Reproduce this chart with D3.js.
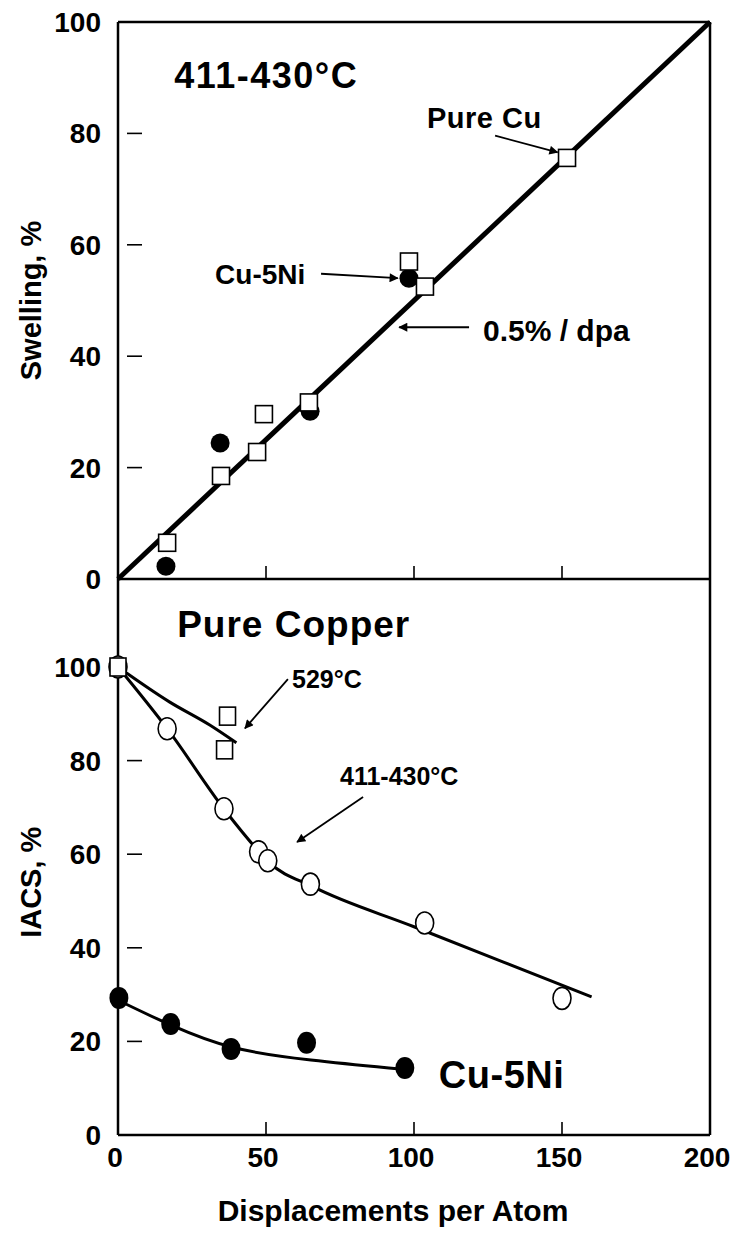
<!DOCTYPE html>
<html>
<head>
<meta charset="utf-8">
<script src="https://cdn.jsdelivr.net/npm/d3@7"></script>
<style>
  body { margin: 0; background: #fff; }
  svg text { font-family: "Liberation Sans", Arial, sans-serif; font-weight: bold; fill: #000; }
</style>
</head>
<body>
<svg id="chart" width="736" height="1233"></svg>
<script>
// swelling panel (411-430 C)
var cuDpa = [16.6, 34.8, 47, 49.3, 64.5, 98.3, 103.7, 151.7],
    cuSwell = [6.5, 18.5, 22.8, 29.6, 31.7, 57, 52.5, 75.6],
    niDpa = [16.2, 34.5, 64.9, 98.3],
    niSwell = [2.3, 24.4, 30.1, 54],
    fitDpa = [0, 200],
    fitSwell = [0, 100]

// IACS panel
var hotDpa = [0, 37, 36],
    hotIacs = [100, 89.5, 82.3],
    hotLineDpa = [0, 17.5, 31, 40],
    hotLineIacs = [100, 92.5, 87.6, 83.8],
    warmDpa = [0, 16.6, 35.8, 47.5, 50.6, 65, 103.6, 150],
    warmIacs = [100, 86.8, 69.7, 60.5, 58.6, 53.6, 45.3, 29.2],
    warmLineDpa = [0, 17, 36, 48, 51, 66, 100, 130, 160],
    warmLineIacs = [100, 86.5, 69.5, 60.3, 58.3, 53, 44.5, 37, 29.5],
    ni2Dpa = [0.3, 17.8, 38.2, 63.7, 96.9],
    ni2Iacs = [29.3, 23.7, 18.4, 19.7, 14.3],
    ni2LineDpa = [0, 18, 38, 64, 97],
    ni2LineIacs = [28.8, 23.3, 18.2, 16, 14]

var xTicks = [0, 50, 100, 150, 200],
    yTicks = [0, 20, 40, 60, 80, 100]

var svg = d3.select("#chart")

var x = d3.scaleLinear().domain([0, 200]).range([118, 710]),
    yT = d3.scaleLinear().domain([0, 100]).range([579, 22]),
    yB = d3.scaleLinear().domain([0, 100]).range([1135, 667])

var defs = svg.append("defs")
defs.append("marker")
    .attr("id", "head")
    .attr("viewBox", "0 0 10 10")
    .attr("refX", 9).attr("refY", 5)
    .attr("markerWidth", 11).attr("markerHeight", 9)
    .attr("markerUnits", "userSpaceOnUse")
    .attr("orient", "auto")
  .append("path")
    .attr("d", "M0,0L10,5L0,10z")

function zip(a, b) {
    return a.map(function(v, i) { return [v, b[i]] })
}

// frame
var frame = svg.append("g").attr("fill", "none").attr("stroke", "#000").attr("stroke-width", 2.5)
frame.append("line").attr("x1", x(0)).attr("x2", x(0)).attr("y1", yT(100)).attr("y2", yB(0))
frame.append("line").attr("x1", x(200)).attr("x2", x(200)).attr("y1", yT(100)).attr("y2", yB(0))
frame.append("line").attr("x1", x(0)).attr("x2", x(200)).attr("y1", yT(100)).attr("y2", yT(100))
frame.append("line").attr("x1", x(0)).attr("x2", x(200)).attr("y1", yT(0)).attr("y2", yT(0))
frame.append("line").attr("x1", x(0)).attr("x2", x(200)).attr("y1", yB(0)).attr("y2", yB(0))

// ticks
var ticks = svg.append("g").attr("stroke", "#000").attr("stroke-width", 1.6)
;[yT, yB].forEach(function(y) {
    ticks.selectAll(null).data(yTicks.slice(1, 5)).enter().append("line")
        .attr("x1", x(0) + 9).attr("x2", x(0) + 24)
        .attr("y1", y).attr("y2", y)
    ticks.selectAll(null).data(xTicks.slice(1, 4)).enter().append("line")
        .attr("x1", x).attr("x2", x)
        .attr("y1", y(0)).attr("y2", y(0) - 13)
})

// tick labels
;[yT, yB].forEach(function(y) {
    svg.append("g").selectAll("text").data(yTicks).enter().append("text")
        .attr("x", 101).attr("y", function(d) { return y(d) + 10 })
        .attr("text-anchor", "end")
        .style("font-size", "28px")
        .text(function(d) { return d })
})
svg.append("g").selectAll("text").data(xTicks).enter().append("text")
    .attr("x", function(d) { return x(d) - 3 })
    .attr("y", 1167)
    .attr("text-anchor", "middle")
    .style("font-size", "28px")
    .text(function(d) { return d })

// axis titles
svg.append("text")
    .attr("transform", "translate(41," + yT(50) + ") rotate(-90)")
    .attr("text-anchor", "middle")
    .style("font-size", "29px")
    .text("Swelling, %")
svg.append("text")
    .attr("transform", "translate(41," + yB(54) + ") rotate(-90)")
    .attr("text-anchor", "middle")
    .style("font-size", "29px")
    .text("IACS, %")
svg.append("text")
    .attr("x", 393).attr("y", 1221)
    .attr("text-anchor", "middle")
    .style("font-size", "30px")
    .text("Displacements per Atom")

// top panel
var lineT = d3.line().x(function(d) { return x(d[0]) }).y(function(d) { return yT(d[1]) })
svg.append("path").datum(zip(fitDpa, fitSwell))
    .attr("d", lineT).attr("fill", "none").attr("stroke", "#000").attr("stroke-width", 5)

svg.append("g").selectAll("circle").data(zip(niDpa, niSwell)).enter().append("circle")
    .attr("cx", function(d) { return x(d[0]) }).attr("cy", function(d) { return yT(d[1]) })
    .attr("r", 9.5).attr("fill", "#000")

svg.append("g").selectAll("rect").data(zip(cuDpa, cuSwell)).enter().append("rect")
    .attr("x", function(d) { return x(d[0]) - 8.5 }).attr("y", function(d) { return yT(d[1]) - 8.5 })
    .attr("width", 17).attr("height", 17)
    .attr("fill", "#fff").attr("stroke", "#000").attr("stroke-width", 1.6)

// bottom panel
function lineB(curve) {
    return d3.line().curve(curve).x(function(d) { return x(d[0]) }).y(function(d) { return yB(d[1]) })
}
svg.append("path").datum(zip(hotLineDpa, hotLineIacs))
    .attr("d", lineB(d3.curveMonotoneX)).attr("fill", "none").attr("stroke", "#000").attr("stroke-width", 3)
svg.append("path").datum(zip(warmLineDpa, warmLineIacs))
    .attr("d", lineB(d3.curveMonotoneX)).attr("fill", "none").attr("stroke", "#000").attr("stroke-width", 3)
svg.append("path").datum(zip(ni2LineDpa, ni2LineIacs))
    .attr("d", lineB(d3.curveBasis)).attr("fill", "none").attr("stroke", "#000").attr("stroke-width", 3)

svg.append("g").selectAll("ellipse").data(zip(warmDpa, warmIacs)).enter().append("ellipse")
    .attr("cx", function(d) { return x(d[0]) }).attr("cy", function(d) { return yB(d[1]) })
    .attr("rx", 9).attr("ry", 11)
    .attr("fill", "#fff").attr("stroke", "#000").attr("stroke-width", 1.6)

svg.append("g").selectAll("rect").data(zip(hotDpa, hotIacs)).enter().append("rect")
    .attr("x", function(d) { return x(d[0]) - 8 }).attr("y", function(d) { return yB(d[1]) - 9 })
    .attr("width", 16).attr("height", 18)
    .attr("fill", "#fff").attr("stroke", "#000").attr("stroke-width", 1.6)

svg.append("g").selectAll("ellipse").data(zip(ni2Dpa, ni2Iacs)).enter().append("ellipse")
    .attr("cx", function(d) { return x(d[0]) }).attr("cy", function(d) { return yB(d[1]) })
    .attr("rx", 9.5).attr("ry", 11).attr("fill", "#000")

// annotations
function label(t, px, py, size, spacing) {
    svg.append("text").attr("x", px).attr("y", py)
        .style("font-size", size + "px")
        .style("letter-spacing", (spacing || 0) + "px")
        .text(t)
}
function arrow(x1, y1, x2, y2) {
    svg.append("line")
        .attr("x1", x1).attr("y1", y1).attr("x2", x2).attr("y2", y2)
        .attr("stroke", "#000").attr("stroke-width", 1.8)
        .attr("marker-end", "url(#head)")
}

label("411-430\u00b0C", x(19), yT(88.2), 36, 1.5)
label("Pure Cu", x(104.4), yT(81), 29, 0.5)
arrow(x(127.4), yT(79.6), x(148.5), yT(76.6))
label("Cu-5Ni", x(32.8), yT(53), 28, 0)
arrow(x(68.6), yT(54.8), x(94.5), yT(54))
label("0.5% / dpa", x(123.3), yT(42.8), 30, 0)
arrow(x(118.6), yT(45.2), x(95), yT(45.2))

label("Pure Copper", x(20), yB(106.4), 37, 1)
label("529\u00b0C", x(58.8), yB(95.5), 25, 0)
arrow(x(57.4), yB(97.4), x(42.9), yB(86.9))
label("411-430\u00b0C", x(75), yB(74.8), 25, 0)
arrow(x(82.8), yB(72.2), x(60.5), yB(62.6))
label("Cu-5Ni", x(108.4), yB(10), 38, 0.5)
</script>
</body>
</html>
